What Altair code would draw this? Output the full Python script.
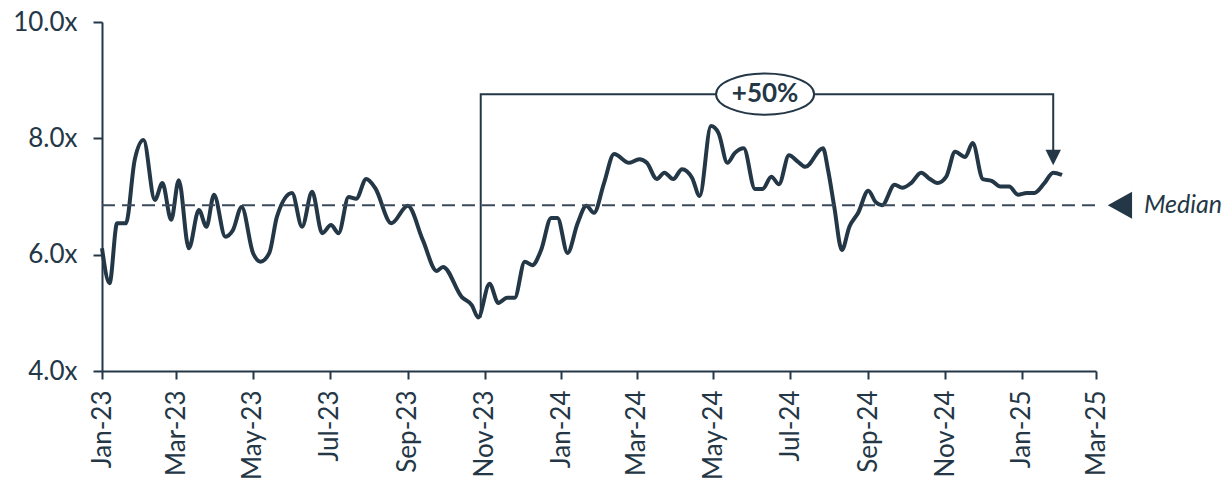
import altair as alt
import pandas as pd

NAVY = "#243746"

dates = [
    "2023-01-01", "2023-01-07", "2023-01-13", "2023-01-20", "2023-01-27", "2023-02-03",
    "2023-02-12", "2023-02-18", "2023-02-25", "2023-03-03", "2023-03-11", "2023-03-19",
    "2023-03-25", "2023-03-31", "2023-04-09", "2023-04-15", "2023-04-22", "2023-05-01",
    "2023-05-07", "2023-05-14", "2023-05-20", "2023-06-01", "2023-06-09", "2023-06-17",
    "2023-06-25", "2023-07-02", "2023-07-08", "2023-07-16", "2023-07-22", "2023-07-30",
    "2023-08-06", "2023-08-19", "2023-09-01", "2023-09-13", "2023-09-24", "2023-09-29",
    "2023-10-14", "2023-10-22", "2023-10-27", "2023-11-05", "2023-11-12", "2023-11-19",
    "2023-11-25", "2023-12-03", "2023-12-09", "2023-12-16", "2023-12-24", "2023-12-29",
    "2024-01-06", "2024-01-14", "2024-01-21", "2024-01-27", "2024-02-04", "2024-02-12",
    "2024-02-24", "2024-03-03", "2024-03-09", "2024-03-17", "2024-03-23", "2024-03-30",
    "2024-04-06", "2024-04-14", "2024-04-20", "2024-04-29", "2024-05-05", "2024-05-12",
    "2024-05-18", "2024-05-25", "2024-06-03", "2024-06-09", "2024-06-16", "2024-06-22",
    "2024-06-30", "2024-07-07", "2024-07-13", "2024-07-27", "2024-07-31", "2024-08-05",
    "2024-08-11", "2024-08-17", "2024-08-24", "2024-09-01", "2024-09-07", "2024-09-12",
    "2024-09-22", "2024-09-28", "2024-10-05", "2024-10-13", "2024-10-20", "2024-10-26",
    "2024-11-02", "2024-11-09", "2024-11-17", "2024-11-23", "2024-12-01", "2024-12-08",
    "2024-12-15", "2024-12-22", "2024-12-29", "2025-01-05", "2025-01-11", "2025-01-19",
    "2025-01-26", "2025-02-02",
]
values = [
    6.11, 5.51, 6.54, 6.54, 7.63, 7.97,
    6.94, 7.23, 6.60, 7.28, 6.11, 6.77,
    6.48, 7.03, 6.31, 6.42, 6.82, 6.03,
    5.88, 6.03, 6.65, 7.06, 6.48, 7.08,
    6.37, 6.51, 6.37, 6.99, 6.96, 7.30,
    7.15, 6.54, 6.84, 6.25, 5.72, 5.79,
    5.27, 5.13, 4.92, 5.50, 5.17, 5.26,
    5.26, 5.88, 5.82, 6.08, 6.63, 6.63,
    6.03, 6.54, 6.84, 6.72, 7.23, 7.73,
    7.58, 7.64, 7.58, 7.30, 7.41, 7.30,
    7.47, 7.32, 7.01, 8.21, 8.09, 7.58,
    7.75, 7.83, 7.13, 7.13, 7.34, 7.21,
    7.71, 7.60, 7.51, 7.83, 7.46, 6.82,
    6.08, 6.48, 6.72, 7.10, 6.90, 6.85,
    7.20, 7.15, 7.23, 7.41, 7.30, 7.23,
    7.34, 7.77, 7.68, 7.92, 7.30, 7.27,
    7.17, 7.17, 7.03, 7.06, 7.06, 7.23,
    7.41, 7.37,
]

tick_dates = ["2023-01-01", "2023-03-01", "2023-05-01", "2023-07-01", "2023-09-01",
              "2023-11-01", "2024-01-01", "2024-03-01", "2024-05-01", "2024-07-01",
              "2024-09-01", "2024-11-01", "2025-01-01", "2025-03-01"]
y_ticks = [4, 6, 8, 10]

median_value = 6.85
median_span = ["2023-01-01", "2025-03-01"]
marker_date = ["2025-03-20"]
marker_label = ["Median"]

bracket_dates = ["2023-10-29", "2023-10-29", "2025-01-26", "2025-01-26"]
bracket_values = [4.92, 8.76, 8.76, 7.74]
bracket_order = [0, 1, 2, 3]
arrow_date = ["2025-01-26"]
arrow_value = [7.67]
badge_date = ["2024-06-11"]
badge_value = [8.76]
badge_text = ["+50%"]


def dt(s):
    y, m, d = s.split("-")
    return alt.DateTime(year=int(y), month=int(m), date=int(d), utc=True)


xscale = alt.Scale(type="utc", domain=[dt("2023-01-01"), dt("2025-03-01")])
yscale = alt.Scale(domain=[4, 10])

xaxis = alt.Axis(values=[dt(s) for s in tick_dates], labelExpr="utcFormat(datum.value, '%b-%y')",
                 labelAngle=-90, labelAlign="right", labelBaseline="middle",
                 title=None, grid=False, tickSize=8, labelPadding=11)
yaxis = alt.Axis(values=y_ticks, labelExpr="format(datum.value, '.1f') + 'x'",
                 title=None, grid=False, tickSize=9, labelPadding=16)


def X(field):
    return alt.X(field, scale=xscale, axis=xaxis)


def Y(field):
    return alt.Y(field, scale=yscale, axis=yaxis)


df = pd.DataFrame({"date": dates, "value": values})
line = alt.Chart(df).mark_line(interpolate="monotone", color=NAVY, strokeWidth=4).encode(
    x=X("date:T"), y=Y("value:Q"),
)

med_df = pd.DataFrame({"start": [median_span[0]], "end": [median_span[1]], "v": [median_value]})
median = alt.Chart(med_df).mark_rule(color="#3a4a5a", strokeWidth=2, strokeDash=[13, 7]).encode(
    x=X("start:T"), x2="end:T", y=Y("v:Q")
)

mk_df = pd.DataFrame({"date": marker_date, "v": [median_value], "t": marker_label})
marker = alt.Chart(mk_df).mark_point(
    shape="M 0.9,-1 L -0.9,0 L 0.9,1 Z", filled=True, size=729, color=NAVY, opacity=1
).encode(x=X("date:T"), y=Y("v:Q"))
mk_text = alt.Chart(mk_df).mark_text(
    font="Lato", fontStyle="italic", fontSize=25, color=NAVY, align="left",
    baseline="middle", dx=24
).encode(x=X("date:T"), y=Y("v:Q"), text="t:N")

br_df = pd.DataFrame({"date": bracket_dates, "v": bracket_values, "o": bracket_order})
bracket = alt.Chart(br_df).mark_line(color=NAVY, strokeWidth=2).encode(
    x=X("date:T"), y=Y("v:Q"), order="o:Q"
)
ar_df = pd.DataFrame({"date": arrow_date, "v": arrow_value})
arrow = alt.Chart(ar_df).mark_point(
    shape="M -1,-1 L 1,-1 L 0,1 Z", filled=True, size=240, color=NAVY, opacity=1
).encode(x=X("date:T"), y=Y("v:Q"))

bd_df = pd.DataFrame({"date": badge_date, "v": badge_value, "t": badge_text})
badge = alt.Chart(bd_df).mark_point(
    shape="M -1,0 A 1,0.42 0 1,1 1,0 A 1,0.42 0 1,1 -1,0 Z", size=9604,
    fill="white", stroke=NAVY, strokeWidth=2, opacity=1, fillOpacity=1
).encode(x=X("date:T"), y=Y("v:Q"))
badge_t = alt.Chart(bd_df).mark_text(
    font="Lato", fontWeight="bold", fontSize=26, color=NAVY, align="center", baseline="middle"
).encode(x=X("date:T"), y=Y("v:Q"), text="t:N")

chart = alt.layer(line, median, bracket, arrow, badge, badge_t, marker, mk_text).properties(
    width=994, height=349,
    autosize=alt.AutoSizeParams(type="none"),
    padding={"left": 94, "top": 14, "right": 126, "bottom": 110},
).configure_view(stroke=None).configure_axis(
    domainColor=NAVY, domainWidth=2, tickColor=NAVY, tickWidth=2,
    labelColor=NAVY, labelFont="Lato", labelFontSize=26,
)

chart.save("out.html", embed_options={"renderer": "svg", "actions": False})
